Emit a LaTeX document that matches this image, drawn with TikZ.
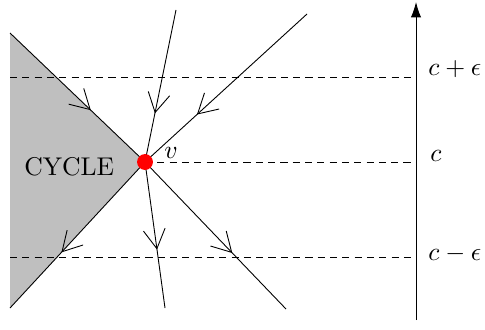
\documentclass[tikz,border=0pt]{standalone}
\usepackage{tikz}
\usetikzlibrary{arrows.meta, decorations.markings}

\begin{document}
\begin{tikzpicture}[
    x=0.39pt, y=-0.39pt, line width=0.35pt,
    flow/.style={postaction={decorate}, decoration={markings,
        mark=at position #1 with {\arrow{Straight Barb[length=7.5pt, width=8.5pt]}}}},
    cutline/.style={dashed, dash pattern=on 2.8pt off 2pt},
    dot/.style={circle, fill=red, inner sep=0pt, minimum size=6.2pt},
    lbl/.style={anchor=base west, inner sep=0pt},
]
    \useasboundingbox (0,0) rectangle (485,329);

    % points
    \coordinate (v) at (145,162);
    \coordinate (ctop) at (10,33);
    \coordinate (cbot) at (10,308);
    \coordinate (ntop) at (176,10);
    \coordinate (nbot) at (165,308);
    \coordinate (etop) at (307,14);
    \coordinate (ebot) at (286,309);

    % cycle region
    \fill[gray!50] (ctop) -- (v) -- (cbot) -- cycle;
    \node[lbl] (cyc) at (24,175) {CYCLE};

    % levels
    \coordinate (up left) at (10,77);
    \coordinate (up right) at (416,77);
    \coordinate (mid right) at (416,162);
    \coordinate (lo left) at (10,257);
    \coordinate (lo right) at (416,257);
    \draw[cutline] (up left) -- (up right);
    \draw[cutline] (v) -- (mid right);
    \draw[cutline] (lo left) -- (lo right);

    % flow lines
    \draw[flow=0.6] (ctop) -- (v);
    \draw[flow=0.62] (v) -- (cbot);
    \draw[flow=0.68] (ntop) -- (v);
    \draw[flow=0.6] (v) -- (nbot);
    \draw[flow=0.68] (etop) -- (v);
    \draw[flow=0.62] (v) -- (ebot);

    % critical point
    \node[dot] (vdot) at (v) {};
    \node[lbl] (vlab) at (164,158) {$v$};

    % axis
    \coordinate (axbot) at (416,320);
    \coordinate (axtop) at (416,2);
    \draw[-{Latex[length=6pt, width=4pt]}] (axbot) -- (axtop);
    \node[lbl] (cup) at (428,75) {$c+\epsilon$};
    \node[lbl] (cmid) at (430,161) {$c$};
    \node[lbl] (clo) at (428,260) {$c-\epsilon$};

\end{tikzpicture}
\end{document}
